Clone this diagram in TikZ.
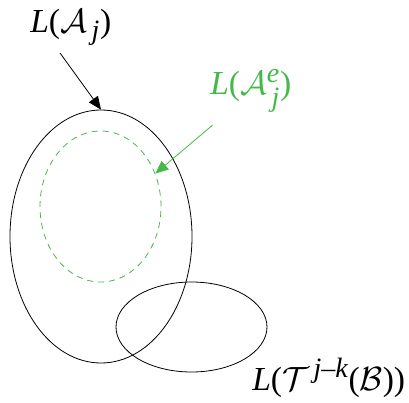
\documentclass[tikz,border=0pt]{standalone}
\usepackage{amsmath}
\usepackage{fontspec}
\setmainfont{Liberation Serif}
\usetikzlibrary{shapes.geometric,arrows.meta}
\definecolor{grn}{RGB}{68,184,72}
\newcommand{\ti}[1]{\textit{#1}}
\tikzset{
  lbl/.style={font=\Huge, scale=1.35, inner sep=0pt, anchor=base west},
  oval/.style={ellipse, draw, line width=0.8pt, inner sep=0pt},
  arr/.style={line width=0.8pt, -{Triangle[length=13pt,width=11pt]}}
}
\begin{document}
\begin{tikzpicture}[x=1pt,y=1pt]
\useasboundingbox (0,0) rectangle (409,-403);
\node[oval, minimum width=182pt, minimum height=253pt] (A) at (101,-236.5) {};
\node[oval, grn, dash pattern=on 6pt off 5pt, minimum width=121pt, minimum height=151pt] (E) at (100.5,-206.5) {};
\node[oval, minimum width=151pt, minimum height=90pt] (B) at (191.5,-327) {};
\node[lbl] (la) at (30,-33) {\ti{L}($\mathcal{A}_{\,\ti{j}}$)};
\node[lbl, text=grn] (le) at (210,-95) {\ti{L}($\mathcal{A}^{\ti{e}}_{\,\ti{j}}$)};
\node[lbl] (lt) at (252,-390) {\ti{L}($\mathcal{T}^{\,\ti{j}\text{--}\ti{k}}$($\mathcal{B}$))};
\coordinate (sa) at (60,-53);
\coordinate (se) at (212.7,-125);
\draw[arr] (sa) -- (A.north);
\draw[arr, grn] (se) -- (E.31);
\end{tikzpicture}
\end{document}
